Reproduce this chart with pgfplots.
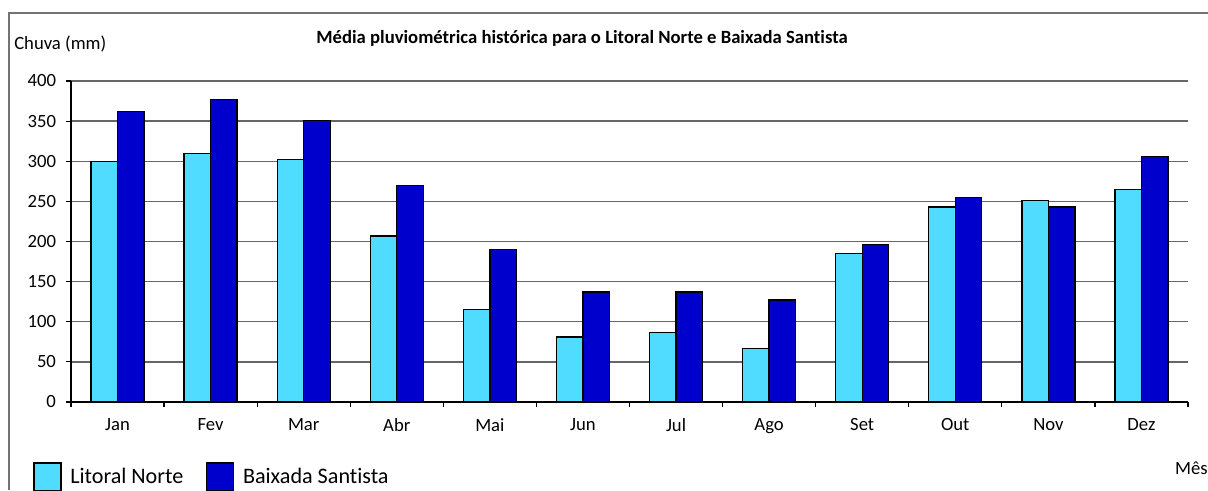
\documentclass[border=0pt]{standalone}
\usepackage{pgfplots}
\pgfplotsset{compat=1.18}
\usepackage{fontspec}
\setmainfont{Carlito}[Ligatures=NoCommon]
\definecolor{lnc}{RGB}{80,220,255}
\definecolor{bsc}{RGB}{0,0,204}
\pgfplotsset{boxlegend/.style={legend image code/.code={\draw[##1] (0pt,-10.5pt) rectangle (20.25pt,10.5pt);}}}
\begin{document}
\begin{tikzpicture}[x=0.75pt,y=0.75pt]
\path[use as bounding box] (0,0) rectangle (1208,490);
\draw[black!55, line width=1.1pt] (9,0) -- (9,477) -- (1208,477);
\node[font=\fontsize{14}{16}\selectfont\bfseries] at (582,452) {Média pluviométrica histórica para o Litoral Norte e Baixada Santista};
\node[font=\fontsize{14}{16}\selectfont, anchor=west, inner sep=0pt] at (14,446) {Chuva (mm)};
\node[font=\fontsize{14}{16}\selectfont, anchor=east, inner sep=0pt] at (1208,22) {Mês};
\coordinate (axorig) at (71,88);
\begin{axis}[
  at={(axorig)}, anchor=south west, scale only axis,
  width=837.75pt, height=240.75pt,
  xmin=-0.5, xmax=11.5, ymin=0, ymax=400,
  ytick={0,50,...,400},
  xtick={0,...,11},
  xticklabels={Jan,Fev,Mar,Abr,Mai,Jun,Jul,Ago,Set,Out,Nov,Dez},
  minor xtick={-0.5,0.5,...,11.5},
  major x tick style={draw=none},
  tick align=outside,
  major tick length=3.75pt, minor tick length=3.75pt,
  tick style={black, line width=0.9pt},
  axis x line*=bottom, axis y line*=left,
  axis line style={-, black, line width=1pt},
  ymajorgrids, major grid style={black!60, line width=1pt},
  /pgf/number format/assume math mode=true,
  ticklabel style={font=\fontsize{14}{16}\selectfont},
  yticklabel style={anchor=east, xshift=-4pt},
  xticklabel style={anchor=north, yshift=-5pt},
  clip=false,
  legend columns=2,
  legend style={at={(-0.034,-0.187)}, anchor=north west, draw=none, fill=none,
    inner sep=0pt, font=\fontsize{16.6}{19}\selectfont,
    /tikz/every odd column/.append style={column sep=4.5pt},
    /tikz/every even column/.append style={column sep=15pt}},
]
\addplot[ybar, bar width=0.285, bar shift=-0.1425, fill=lnc, draw=black, line width=1pt, boxlegend]
  coordinates {(0,300) (1,310) (2,302) (3,207) (4,115) (5,81) (6,87) (7,67) (8,185) (9,243) (10,251) (11,265)};
\addlegendentry{Litoral Norte}
\addplot[ybar, bar width=0.285, bar shift=0.1425, fill=bsc, draw=black, line width=1pt, boxlegend]
  coordinates {(0,362) (1,377) (2,351) (3,270) (4,190) (5,137) (6,137) (7,127) (8,196) (9,255) (10,243) (11,306)};
\addlegendentry{Baixada Santista}
\end{axis}
\end{tikzpicture}
\end{document}
